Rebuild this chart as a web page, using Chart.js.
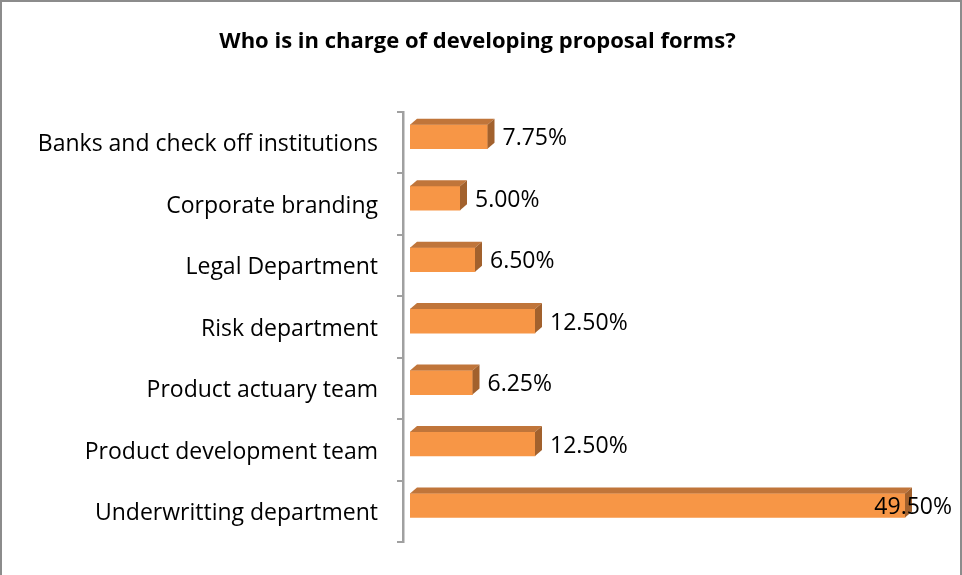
<!DOCTYPE html>
<html>
<head>
<meta charset="utf-8">
<script src="https://cdn.jsdelivr.net/npm/chart.js@4/dist/chart.umd.min.js"></script>
<style>
  html, body { margin: 0; padding: 0; background: #fff; }
  #wrap {
    width: 962px; height: 575px; box-sizing: border-box;
    border: 2px solid #8c8c8c; border-bottom: none;
  }
  #chart { display: block; }
</style>
</head>
<body>
<div id="wrap"><canvas id="chart" width="958" height="573"></canvas></div>
<script>
const categories = [
  'Banks and check off institutions',
  'Corporate branding',
  'Legal Department',
  'Risk department',
  'Product actuary team',
  'Product development team',
  'Underwritting department'
];
const shares = [7.75, 5.00, 6.50, 12.50, 6.25, 12.50, 49.50];

const FONT = '"Open Sans", "Noto Sans", sans-serif';
const DX = 7, DY = -6;   // depth of the fake 3d box

// shift the bars a little, then paint top and side faces
const box3d = {
  id: 'box3d',
  beforeDatasetsDraw(chart) {
    chart.ctx.save();
    chart.ctx.translate(DX, DY);
  },
  afterDatasetsDraw(chart) {
    const ctx = chart.ctx;
    const meta = chart.getDatasetMeta(0);
    meta.data.forEach(bar => {
      const x0 = bar.base, x1 = bar.x;
      const y0 = bar.y - bar.height / 2, y1 = bar.y + bar.height / 2;
      // top
      ctx.fillStyle = '#c0753a';
      ctx.beginPath();
      ctx.moveTo(x0, y0);
      ctx.lineTo(x0 + DX, y0 + DY);
      ctx.lineTo(x1 + DX, y0 + DY);
      ctx.lineTo(x1, y0);
      ctx.closePath();
      ctx.fill();
      // side
      ctx.fillStyle = '#a2612d';
      ctx.beginPath();
      ctx.moveTo(x1, y0);
      ctx.lineTo(x1 + DX, y0 + DY);
      ctx.lineTo(x1 + DX, y1 + DY);
      ctx.lineTo(x1, y1);
      ctx.closePath();
      ctx.fill();
    });
    // value labels
    ctx.font = '23px ' + FONT;
    ctx.fillStyle = '#000';
    ctx.textBaseline = 'middle';
    ctx.textAlign = 'left';
    const limit = chart.width - 15;
    meta.data.forEach((bar, i) => {
      const txt = shares[i].toFixed(2) + '%';
      const w = ctx.measureText(txt).width;
      let x = bar.x + DX + 8;
      if (x + w > limit) x = limit - w;
      ctx.fillText(txt, x, bar.y + 2);
    });
    ctx.restore();
  }
};

new Chart(document.getElementById('chart'), {
  type: 'bar',
  data: {
    labels: categories,
    datasets: [{
      data: shares,
      backgroundColor: '#f79646',
      borderWidth: 0,
      barThickness: 24
    }]
  },
  options: {
    indexAxis: 'y',
    responsive: false,
    animation: false,
    layout: { padding: { top: 0, right: 7, bottom: 32, left: 0 } },
    plugins: {
      legend: { display: false },
      tooltip: { enabled: false },
      title: {
        display: true,
        text: 'Who is in charge of developing proposal forms?',
        color: '#000',
        font: { family: FONT, size: 22, weight: 'bold' },
        padding: { top: 27, bottom: 56.6 }
      }
    },
    scales: {
      x: { display: false, min: 0, max: 55 },
      y: {
        offset: true,
        afterFit(scale) { scale.width = 401; },
        grid: {
          offset: true,
          drawOnChartArea: false,
          tickLength: 6,
          color: '#a0a0a0',
          lineWidth: 2
        },
        border: { display: true, color: '#a0a0a0', width: 2.5 },
        ticks: {
          padding: 19,
          labelOffset: 2,
          color: '#000',
          font: { family: FONT, size: 23 }
        }
      }
    }
  },
  plugins: [box3d]
});
</script>
</body>
</html>
